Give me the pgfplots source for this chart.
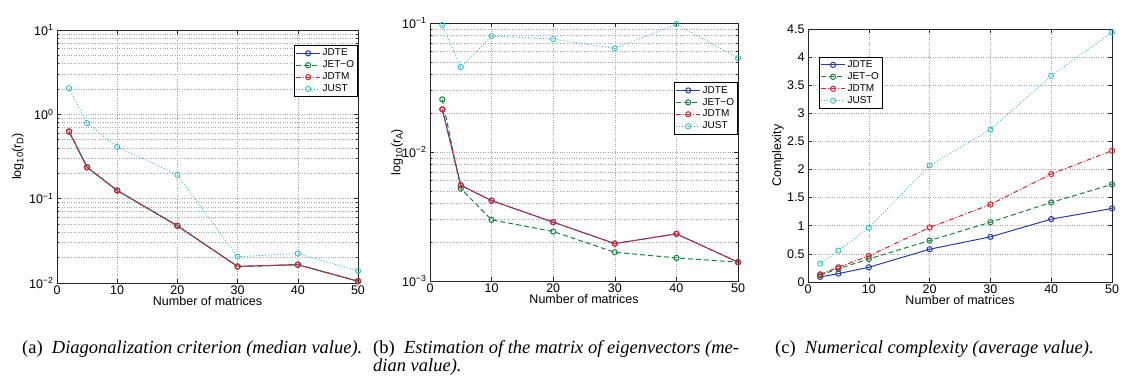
\documentclass[border=0pt]{standalone}
\usepackage{fontspec}
\setmainfont{Liberation Serif}
\newfontfamily\hv{Liberation Sans}
\usepackage{pgfplots}
\pgfplotsset{compat=1.18}
\definecolor{cB}{RGB}{40,60,170}
\definecolor{cG}{RGB}{20,130,60}
\definecolor{cR}{RGB}{235,30,40}
\definecolor{cC}{RGB}{30,190,195}
\newcommand{\sub}[1]{\raisebox{-0.35ex}{\fontsize{9.5}{10}\selectfont #1}}
\pgfplotsset{
  mystyle/.style={
    scale only axis,
    font=\hv\fontsize{12.5}{14}\selectfont,
    tick align=inside, major tick length=4pt, minor tick length=2pt,
    tick style={line width=0.6pt,black!85},
    axis line style={line width=1pt, black!85},
    xmin=0, xmax=50, xtick={0,10,20,30,40,50},
    grid=both,
    major grid style={dotted, gray!70, line width=0.6pt},
    minor grid style={dotted, gray!70, line width=0.6pt},
    /pgf/number format/assume math mode=true,
    xlabel={Number of matrices},
    xlabel style={at={(axis description cs:0.5,0)}, anchor=center, yshift=-18pt},
    xticklabel style={yshift=1pt},
    legend style={font=\hv\fontsize{10}{11}\selectfont, draw=black, line width=0.8pt,
      fill=white, inner sep=1.5pt, row sep=-0.5pt},
    legend cell align=left,
    legend image code/.code={\draw[mark repeat=2,mark phase=2,##1] plot coordinates {(0pt,0pt) (12pt,0pt) (24pt,0pt)};},
  },
  sJDTE/.style={cB, line width=1pt, mark=o, mark size=2.6pt, mark options={solid}},
  sJETO/.style={cG, line width=1pt, dash pattern=on 5pt off 3pt, mark=o, mark size=2.6pt, mark options={solid}},
  sJDTM/.style={cR, line width=1pt, dash pattern=on 5pt off 2pt on 1pt off 2pt, mark=o, mark size=2.6pt, mark options={solid}},
  sJUST/.style={cC, line width=0.8pt, dash pattern=on 1pt off 2pt, mark=o, mark size=2.6pt, mark options={solid}},
}
\begin{document}
\begin{tikzpicture}
\path[use as bounding box] (0pt,0pt) rectangle (1123pt,376pt);

% (a)
\begin{axis}[mystyle, at={(57pt,93pt)}, anchor=south west, width=301pt, height=253pt,
  ymode=log, ymin=0.01, ymax=10,
  ytick={0.01,0.1,1,10},
  yticklabels={10\textsuperscript{−2},10\textsuperscript{−1},10\textsuperscript{0},10\textsuperscript{1}},
  minor ytick={0.02,0.03,0.04,0.05,0.06,0.07,0.08,0.09,0.2,0.3,0.4,0.5,0.6,0.7,0.8,0.9,2,3,4,5,6,7,8,9},
  ylabel={log\sub{10}(r\sub{D})},
  ylabel style={at={(axis description cs:-0.13,0.5)}, anchor=center},
  legend style={at={(1,0.94)}, anchor=north east},
]
\addplot[sJDTE] coordinates {(2,0.625) (5,0.236) (10,0.125) (20,0.0477) (30,0.0157) (40,0.0165) (50,0.0105)};
\addplot[sJETO] coordinates {(2,0.625) (5,0.236) (10,0.125) (20,0.0477) (30,0.0157) (40,0.0165) (50,0.0105)};
\addplot[sJDTM] coordinates {(2,0.625) (5,0.236) (10,0.125) (20,0.0477) (30,0.0157) (40,0.0165) (50,0.0105)};
\addplot[sJUST] coordinates {(2,2.04) (5,0.785) (10,0.411) (20,0.192) (30,0.0205) (40,0.0224) (50,0.0139)};
\legend{JDTE,JET−O,JDTM,JUST}
\end{axis}

% (b)
\begin{axis}[mystyle, at={(430pt,95pt)}, anchor=south west, width=308pt, height=258pt,
  ymode=log, ymin=0.001, ymax=0.1,
  ytick={0.001,0.01,0.1},
  yticklabels={10\textsuperscript{−3},10\textsuperscript{−2},10\textsuperscript{−1}},
  minor ytick={0.002,0.003,0.004,0.005,0.006,0.007,0.008,0.009,0.02,0.03,0.04,0.05,0.06,0.07,0.08,0.09},
  ylabel={log\sub{10}(r\sub{A})},
  ylabel style={at={(axis description cs:-0.107,0.5)}, anchor=center},
  legend style={at={(1,0.77)}, anchor=north east},
]
\addplot[sJDTE] coordinates {(2,0.0214) (5,0.00552) (10,0.0042) (20,0.00286) (30,0.00195) (40,0.00232) (50,0.0014)};
\addplot[sJETO] coordinates {(2,0.0256) (5,0.0052) (10,0.00298) (20,0.00242) (30,0.00167) (40,0.00151) (50,0.0014)};
\addplot[sJDTM] coordinates {(2,0.0214) (5,0.00552) (10,0.0042) (20,0.00286) (30,0.00195) (40,0.00232) (50,0.0014)};
\addplot[sJUST] coordinates {(2,0.0965) (5,0.0455) (10,0.0792) (20,0.0751) (30,0.0635) (40,0.098) (50,0.0534)};
\legend{JDTE,JET−O,JDTM,JUST}
\end{axis}

% (c)
\begin{axis}[mystyle, at={(808pt,94pt)}, anchor=south west, width=304pt, height=253pt,
  ymin=0, ymax=4.5, ytick={0,0.5,1,1.5,2,2.5,3,3.5,4,4.5},
  grid=major,
  ylabel={Complexity},
  ylabel style={at={(axis description cs:-0.099,0.5)}, anchor=center},
  legend style={at={(0.035,0.89)}, anchor=north west},
]
\addplot[sJDTE] coordinates {(2,0.09) (5,0.149) (10,0.262) (20,0.583) (30,0.803) (40,1.118) (50,1.308)};
\addplot[sJETO] coordinates {(2,0.12) (5,0.238) (10,0.41) (20,0.737) (30,1.064) (40,1.415) (50,1.736)};
\addplot[sJDTM] coordinates {(2,0.137) (5,0.262) (10,0.464) (20,0.969) (30,1.379) (40,1.92) (50,2.336)};
\addplot[sJUST] coordinates {(2,0.327) (5,0.559) (10,0.963) (20,2.075) (30,2.711) (40,3.668) (50,4.441)};
\legend{JDTE,JET−O,JDTM,JUST}
\node[anchor=south west, font=\hv\fontsize{12.5}{14}\selectfont, inner sep=0pt] at (rel axis cs:0,1) [yshift=3pt] {x 10\textsuperscript{5}};
\end{axis}

% captions
\node[anchor=base west, inner sep=0pt, font=\fontsize{18.5}{22}\selectfont] at (22pt,23pt) {(a)\hspace{0.5em}\textit{Diagonalization criterion (median value).}};
\node[anchor=base west, inner sep=0pt, font=\fontsize{18.5}{22}\selectfont] at (373pt,23pt) {(b)\hspace{0.5em}\textit{Estimation of the matrix of eigenvectors (me-}};
\node[anchor=base west, inner sep=0pt, font=\fontsize{18.5}{22}\selectfont] at (373pt,5pt) {\textit{dian value).}};
\node[anchor=base west, inner sep=0pt, font=\fontsize{18.5}{22}\selectfont] at (775pt,23pt) {(c)\hspace{0.5em}\textit{Numerical complexity (average value).}};
\end{tikzpicture}
\end{document}
